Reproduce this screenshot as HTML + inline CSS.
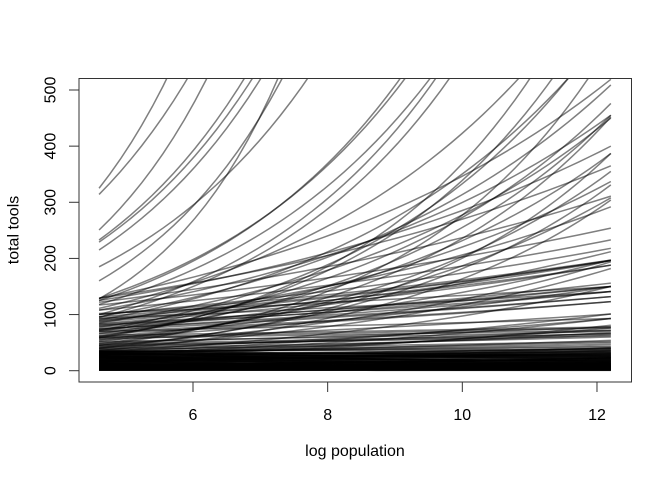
<!DOCTYPE html>
<html>
<head>
<meta charset="utf-8">
<title>Prior predictive curves</title>
<style>
html,body{margin:0;padding:0;background:#fff;}
svg{display:block;}
text{font-family:"Liberation Sans",Arial,sans-serif;font-size:16px;fill:#000;}
</style>
</head>
<body>
<svg id="chart" width="672" height="480" viewBox="0 0 672 480" xmlns="http://www.w3.org/2000/svg">
  <defs><clipPath id="plot-clip"><rect x="79" y="78.5" width="552.5" height="303.5"/></clipPath></defs>
  <g id="curves" clip-path="url(#plot-clip)"></g>
  <rect x="79" y="78.5" width="552.5" height="303.5" fill="none" stroke="#333" stroke-width="1"/>
  <g id="axes"></g>
  <text x="355" y="456" text-anchor="middle">log population</text>
  <text transform="translate(18.5,230) rotate(-90)" text-anchor="middle">total tools</text>
</svg>
<script>
var xTicks = [6, 8, 10, 12];
var yTicks = [0, 100, 200, 300, 400, 500];
var logPopRange = [4.605, 12.206];
var startTools = [
 325,314,250.6,232.8,229,215,185,160,128,125,129,118,100,95,111,58,60,90,72,45,
 129,96,70,62,108,48,85,125,66,40,129,52,78,42,122,55,36,88,117,108,100,73,60,93,45,84,40,102,58,34,81,75,69,33,30,38,28,24,
 100,96,90,87,83,78,93,72,66,63,58,55,52,50,48,46,44,42,40,60,70,75,81,38,36,34,33,32,30,
 35,34,33,32,31,30,29,28,27,26,25,24,23,22,21,20,19,18,17,16,15,14,13,12,11,10,9,8,7,6,5,4,
 35,33,31,29,27,25,23,21,19,17,15,13,11,9,7,5,3,
 34,30,28,26,24,22,20,18,16,14,12,10,8,6,4,
 36,32,28,25,22,19,16,13,10,8,6,5,4,3,
 31,27,24,20,17,14,11,9,7,5,4,3,
 26,23,18,15,12,9,7,6,5,4,3,3,
 2,2,1.5,1.5,1,1,0.8,0.8
];
var endTools = [
 11390,5856,8080,3962,3550,3526,2342,4330,7080,1412,1330,1171,1228,1140,731,786,688,611,623,583,
 519,509,476,455,455,452,450,400,387,387,365,355,337,331,311,308,304,292,254,233,218,212,197,197,194,188,182,150,150,150,141,132,123,101,93,93,76,81,
 197,196,188,196,150,150,141,132,123,78,72,101,70,78,66,62,66,72,60,76,93,141,156,52,64,50,47,68,54,
 38,27,44,21,30,36,16,26,33,12,24,40,18,9,28,22,31,14,7,20,11,25,6,17,8,13,5,10,4,7,3,5,
 20,42,15,33,10,29,19,37,8,26,13,6,22,11,16,4,5,
 12,24,39,17,31,9,27,14,35,7,19,5,23,10,3,
 25,14,34,9,30,18,41,6,21,12,4,15,8,6,
 22,40,11,28,7,32,13,24,5,16,9,4,
 17,29,36,10,6,23,12,3,19,8,5,3,
 2,1.5,2,1,1,0.8,1.5,0.6
];

var xAt = function (v) { return 193 + (v - 6) * 67.33; };
var yAt = function (v) { return 370.7 - v * 0.5614; };
var NS = 'http://www.w3.org/2000/svg';
var curves = document.getElementById('curves');
var axes = document.getElementById('axes');

startTools.forEach(function (s, i) {
  var e = endTools[i];
  var steps = 48;
  var d = '';
  for (var k = 0; k <= steps; k++) {
    var t = k / steps;
    var lx = logPopRange[0] + t * (logPopRange[1] - logPopRange[0]);
    var val = s * Math.pow(e / s, t);
    d += (k ? 'L' : 'M') + xAt(lx).toFixed(2) + ' ' + yAt(val).toFixed(2);
  }
  var p = document.createElementNS(NS, 'path');
  p.setAttribute('d', d);
  p.setAttribute('fill', 'none');
  p.setAttribute('stroke', 'rgba(0,0,0,0.5)');
  p.setAttribute('stroke-width', '1.5');
  
  
  curves.appendChild(p);
});

function addLine(x1, y1, x2, y2) {
  var l = document.createElementNS(NS, 'line');
  l.setAttribute('x1', x1);
  l.setAttribute('y1', y1);
  l.setAttribute('x2', x2);
  l.setAttribute('y2', y2);
  l.setAttribute('stroke', '#333');
  l.setAttribute('stroke-width', '1');
  
  
  axes.appendChild(l);
}

xTicks.forEach(function (v) {
  addLine(xAt(v), 382, xAt(v), 392);
  var t = document.createElementNS(NS, 'text');
  t.setAttribute('x', xAt(v));
  t.setAttribute('y', 420);
  t.setAttribute('text-anchor', 'middle');
  
  
  t.textContent = v;
  axes.appendChild(t);
});

yTicks.forEach(function (v) {
  addLine(69, yAt(v), 79, yAt(v));
  var t = document.createElementNS(NS, 'text');
  t.setAttribute('transform', 'translate(55.5,' + yAt(v) + ') rotate(-90)');
  t.setAttribute('text-anchor', 'middle');
  
  
  t.textContent = v;
  axes.appendChild(t);
});
</script>
</body>
</html>
